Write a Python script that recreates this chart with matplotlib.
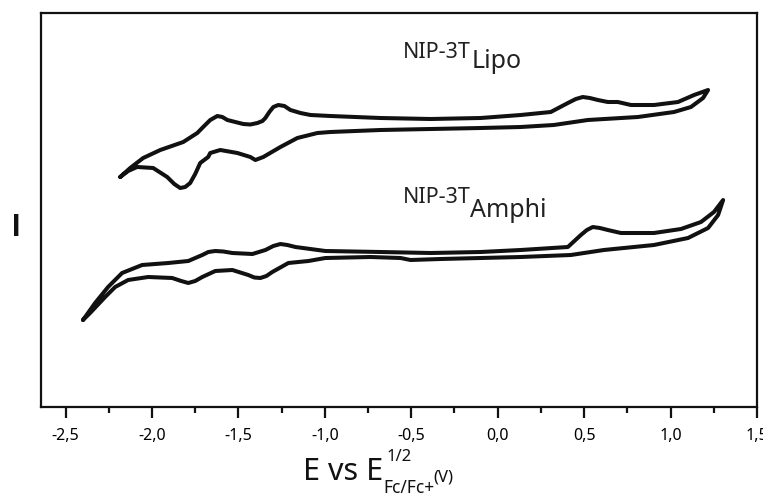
import numpy as np
import matplotlib
matplotlib.use('Agg')
import matplotlib.pyplot as plt
from matplotlib.ticker import MultipleLocator

# Cyclic voltammograms (potential in V, current in arbitrary units)
# NIP-3T Lipo: forward scan (upper trace) then reverse scan (lower trace)
lipo_E = [-2.184, -2.126, -2.051, -1.952, -1.819, -1.738, -1.698, -1.663, -1.622, -1.593,
          -1.564, -1.518, -1.472, -1.431, -1.390, -1.361, -1.344, -1.321, -1.298, -1.269,
          -1.234, -1.199, -1.141, -1.083, -0.968, -0.678, -0.388, -0.098,
          0.133, 0.307, 0.406, 0.452, 0.492, 0.533, 0.579, 0.637, 0.695, 0.771, 0.904, 1.043,
          1.136, 1.217,
          1.188, 1.118, 1.020, 0.811, 0.521, 0.324, 0.133, -0.098, -0.388, -0.678,
          -0.968, -1.043, -1.159, -1.257, -1.356, -1.402, -1.431, -1.506, -1.605, -1.663,
          -1.675, -1.721, -1.750, -1.779, -1.808, -1.837, -1.871, -1.912, -1.993, -2.086,
          -2.138, -2.184]
lipo_I = [23.0, 23.9, 24.9, 25.7, 26.5, 27.4, 28.1, 28.7, 29.1, 29.0,
          28.7, 28.5, 28.3, 28.25, 28.4, 28.6, 28.9, 29.5, 30.0, 30.2,
          30.1, 29.7, 29.4, 29.2, 29.1, 28.9, 28.8, 28.9,
          29.2, 29.5, 30.4, 30.8, 31.0, 30.9, 30.7, 30.5, 30.5, 30.2, 30.2, 30.5,
          31.2, 31.7,
          30.9, 30.0, 29.5, 29.0, 28.7, 28.2, 28.0, 27.9, 27.8, 27.7,
          27.5, 27.4, 26.9, 26.0, 25.0, 24.7, 25.0, 25.4, 25.7, 25.4,
          25.0, 24.4, 23.3, 22.4, 22.0, 21.9, 22.3, 23.0, 23.9, 24.0,
          23.6, 23.0]

# NIP-3T Amphi
amphi_E = [-2.399, -2.329, -2.254, -2.173, -2.057, -1.906, -1.790, -1.709, -1.674, -1.634,
           -1.587, -1.535, -1.419, -1.344, -1.298, -1.257, -1.217, -1.170, -0.997, -0.678,
           -0.388, -0.098, 0.133, 0.406, 0.481, 0.516, 0.550, 0.591, 0.637, 0.713,
           0.904, 1.060, 1.176, 1.251, 1.304,
           1.275, 1.217, 1.101, 0.904, 0.614, 0.423, 0.133, -0.098, -0.330, -0.504,
           -0.562, -0.736, -0.997, -1.095, -1.211, -1.304, -1.338, -1.373, -1.408, -1.443,
           -1.535, -1.634, -1.709, -1.750, -1.790, -1.831, -1.883, -2.022, -2.138, -2.213,
           -2.271, -2.358, -2.399]
amphi_I = [8.7, 10.4, 12.0, 13.4, 14.2, 14.4, 14.6, 15.2, 15.5, 15.6,
           15.55, 15.4, 15.3, 15.7, 16.1, 16.3, 16.2, 16.0, 15.6, 15.5,
           15.4, 15.5, 15.7, 16.0, 17.2, 17.7, 18.0, 17.9, 17.7, 17.4,
           17.4, 17.8, 18.5, 19.5, 20.7,
           19.2, 17.9, 16.9, 16.2, 15.7, 15.2, 15.0, 14.9, 14.8, 14.7,
           14.9, 15.0, 14.9, 14.6, 14.4, 13.5, 13.1, 12.9, 12.95, 13.2,
           13.7, 13.6, 13.0, 12.6, 12.4, 12.6, 12.9, 13.0, 12.7, 12.0,
           11.0, 9.4, 8.7]

xticks = [-2.5, -2.0, -1.5, -1.0, -0.5, 0.0, 0.5, 1.0, 1.5]
xtick_labels = ['-2,5', '-2,0', '-1,5', '-1,0', '-0,5', '0,0', '0,5', '1,0', '1,5']

plt.rcParams['font.family'] = ['Noto Sans', 'DejaVu Sans']

W, H = 763, 497
fig = plt.figure(figsize=(W / 100, H / 100), dpi=100)
ax = fig.add_axes([41 / W, 1 - 407 / H, 716 / W, 394 / H])

line_kw = dict(color='#111111', lw=2.9, solid_joinstyle='round', solid_capstyle='round')
ax.plot(lipo_E, lipo_I, **line_kw)
ax.plot(amphi_E, amphi_I, **line_kw)

# sample labels: name plus lowered tag
ax.text(-0.550, 34.9, 'NIP-3T', fontsize=15.5, color='#222222', va='baseline')
ax.text(-0.150, 33.9, 'Lipo', fontsize=18, color='#222222', va='baseline')
ax.text(-0.550, 20.4, 'NIP-3T', fontsize=15.5, color='#222222', va='baseline')
ax.text(-0.160, 19.0, 'Amphi', fontsize=18, color='#222222', va='baseline')

ax.set_xlim(-2.642, 1.5)
ax.set_ylim(0, 39.4)
ax.set_xticks(xticks)
ax.set_xticklabels(xtick_labels, fontsize=11.5)
ax.xaxis.set_minor_locator(MultipleLocator(0.25))
ax.tick_params(axis='x', which='major', direction='out', length=8, width=1.6, pad=7, color='#111111')
ax.tick_params(axis='x', which='minor', direction='out', length=4.5, width=1.6, color='#111111')
ax.set_yticks([])

for s in ax.spines.values():
    s.set_linewidth(1.6)
    s.set_color('#111111')

# x label built from pieces (pixel positions from the top-left corner)
def ptext(x, y, s, size):
    fig.text(x / W, 1 - y / H, s, fontsize=size, color='#111111', va='baseline', ha='left')

ptext(303, 480, 'E vs E', 22)
ptext(387, 461, '1/2', 12)
ptext(383, 493, 'Fc/Fc+', 12.5)
ptext(433, 481, '(V)', 12)

# y label
fig.text(16 / W, 1 - 228 / H, 'I', fontsize=22, fontweight='bold', color='#111111',
         family=['Liberation Sans', 'DejaVu Sans'], ha='center', va='center')

fig.savefig('out.png', dpi=100)
